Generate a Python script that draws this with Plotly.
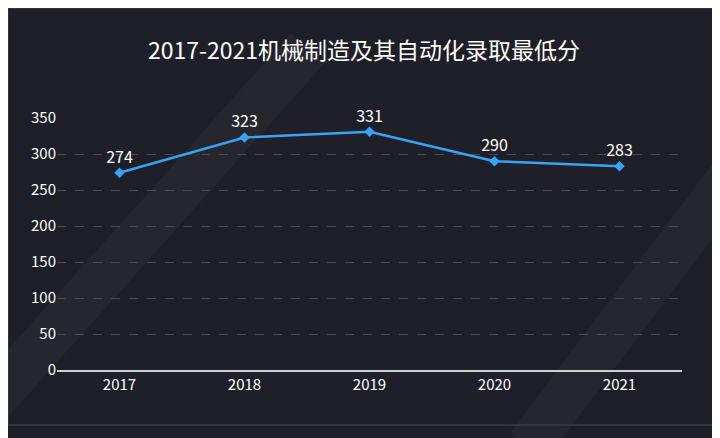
import plotly.graph_objects as go

years = ["2017", "2018", "2019", "2020", "2021"]
scores = [274, 323, 331, 290, 283]
y_ticks = [0, 50, 100, 150, 200, 250, 300, 350]

W, H = 712, 430
L, R, T, B = 49, 38, 110, 68

fig = go.Figure(go.Scatter(
    x=years, y=scores, mode="lines+markers+text",
    text=[str(v) for v in scores], textposition="top center",
    textfont=dict(color="white", size=16),
    line=dict(color="#36a3f7", width=2.5),
    marker=dict(symbol="diamond", size=8, color="#36a3f7"),
    cliponaxis=False,
))

def px(xp, yp):
    return (xp - L) / (W - L - R), (H - B - yp) / (H - T - B)

shapes = []
for (x0, y0, x1, y1) in [(-40, 420, 300, 40), (520, 438, 760, 120)]:
    a = px(x0, y0); b = px(x1, y1)
    shapes.append(dict(type="line", xref="paper", yref="paper", x0=a[0], y0=a[1], x1=b[0], y1=b[1],
                       line=dict(color="rgba(255,255,255,0.03)", width=45), layer="below"))
a = px(0, 417); b = px(705, 0)
shapes.append(dict(type="rect", xref="paper", yref="paper", x0=a[0], y0=a[1], x1=b[0], y1=b[1],
                   line=dict(color="#3a3a48", width=1.5), layer="below"))

fig.update_layout(
    width=W, height=H, margin=dict(l=L, r=R, t=T, b=B),
    paper_bgcolor="#1f1f29", plot_bgcolor="#1f1f29",
    font=dict(family="Noto Sans CJK SC", color="white", size=15),
    title=dict(text="2017-2021机械制造及其自动化录取最低分", x=0.5, y=0.92, xanchor="center",
               font=dict(size=23, color="white")),
    showlegend=False, shapes=shapes,
    xaxis=dict(range=[-0.5, 4.5], showgrid=False, showline=True, linecolor="#cfcfcf", linewidth=1.5,
               ticks="", tickfont=dict(size=15, color="white")),
    yaxis=dict(range=[0, 350], tickvals=y_ticks, showgrid=True, gridcolor="#4a4a55",
               griddash="dash", zeroline=False, tickfont=dict(size=15, color="white")),
)
fig.write_html("out.html")
